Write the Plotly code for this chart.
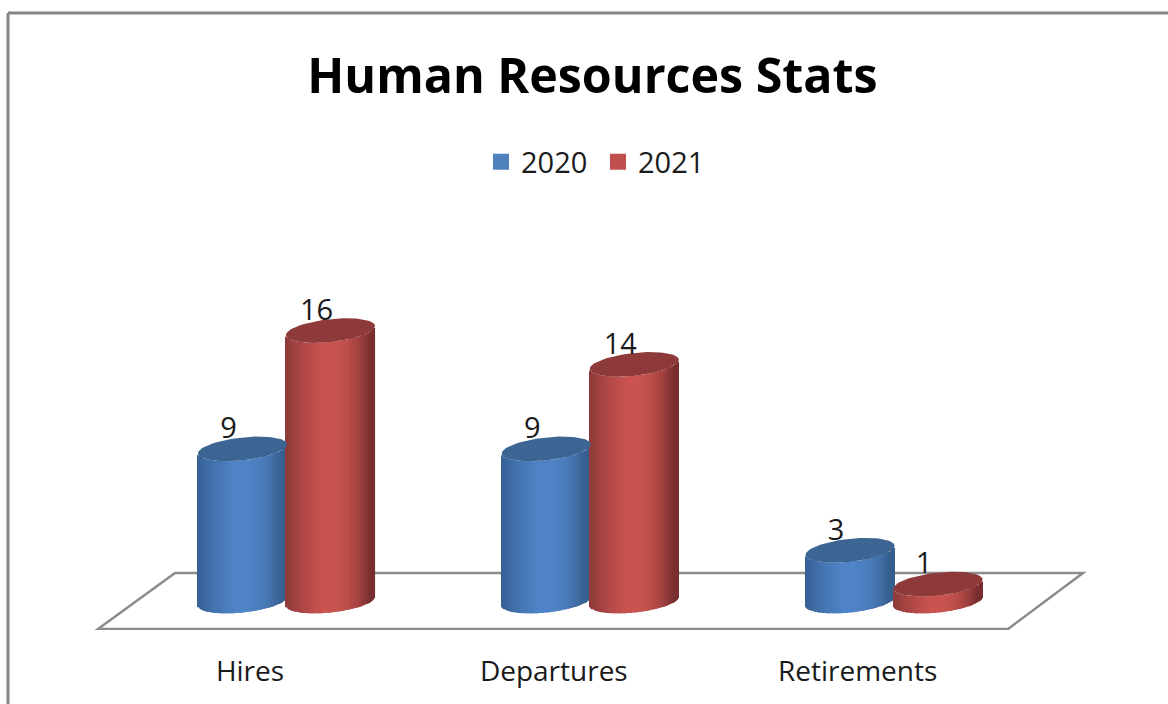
# Human Resources Stats - 3D style cylinder columns built from thin bar slices
import numpy as np
import plotly.graph_objects as go

categories = ["Hires", "Departures", "Retirements"]
values_2020 = [9, 9, 3]
values_2021 = [16, 14, 1]
series_names = ["2020", "2021"]

FONT = "Open Sans"
W, H = 1168, 704
PLOT_BOTTOM = 630      # px of the floor's front edge
PX_X = 303.8           # px per category
PX_Y = 16.9            # px per unit
X0_PX, Y0_PX = 286.5, 601
LABEL_SHIFT = -36.5 / PX_X   # category labels sit left of the group, on the floor's front edge

# cylinder look
half_w = 44.5 / PX_X
off = 44 / PX_X
rim = 11.5 / PX_Y
tilt = 4.5 / PX_Y
u = np.linspace(-1, 1, 81)
u_mid = (u[:-1] + u[1:]) / 2

blue = dict(edge_l=(50, 92, 140), mid=(80, 132, 200), edge_r=(54, 94, 142), top="#3c6594", legend="#4f81bd")
red = dict(edge_l=(132, 54, 54), mid=(203, 84, 80), edge_r=(120, 46, 46), top="#8e3a3a", legend="#c0504d")


def shade(t, c):
    # t runs -1..1 across the cylinder
    end = c["edge_l"] if t < -0.1 else c["edge_r"]
    k = abs(t + 0.1)
    k = min(k ** 1.3 if t < -0.1 else k ** 2.4, 1)
    return "rgb(%d,%d,%d)" % tuple(c["mid"][i] + (end[i] - c["mid"][i]) * k for i in range(3))


fig = go.Figure()

for vals, sign, c in [(values_2020, -1, blue), (values_2021, 1, red)]:
    for i, v in enumerate(vals):
        cx = i + sign * off
        fig.add_trace(go.Bar(
            x=cx + u_mid * half_w,
            y=[v] * len(u_mid),
            base=tilt * u_mid - rim * np.sqrt(1 - u_mid ** 2),
            width=(u[1] - u[0]) * half_w * 1.15,
            marker=dict(color=[shade(t, c) for t in u_mid], line_width=0),
            showlegend=False, hoverinfo="skip",
        ))
        # cap of the cylinder
        th = np.linspace(0, 2 * np.pi, 80)
        fig.add_trace(go.Scatter(
            x=cx + half_w * np.cos(th),
            y=v + tilt * np.cos(th) + rim * np.sin(th),
            mode="lines", fill="toself", fillcolor=c["top"],
            line=dict(width=0), showlegend=False, hoverinfo="skip",
        ))
        # data label
        fig.add_trace(go.Scatter(
            x=[cx - 14 / PX_X], y=[v + 18 / PX_Y], mode="text", text=[str(v)],
            textposition="middle center",
            textfont=dict(family=FONT, size=29, color="#1a1a1a"),
            showlegend=False, hoverinfo="skip",
        ))

# legend entries
for name, c in zip(series_names, [blue, red]):
    fig.add_trace(go.Scatter(
        x=[None], y=[None], mode="markers", name=name,
        marker=dict(symbol="square", size=16, color=c["legend"]),
    ))


def fx(px):
    return (px - X0_PX) / PX_X


def fy(px):
    return (Y0_PX - px) / PX_Y


floor = "M%f,%f L%f,%f L%f,%f L%f,%f Z" % (
    fx(98), fy(629), fx(175), fy(573), fx(1083), fy(573), fx(1008), fy(629))

fig.update_layout(
    width=W, height=H,
    barmode="overlay",
    paper_bgcolor="white", plot_bgcolor="white",
    margin=dict(l=0, r=0, t=0, b=H - PLOT_BOTTOM, pad=0),
    title=dict(text="<b>Human Resources Stats</b>", x=592.5 / W, xanchor="center", y=1 - 76 / H, yanchor="middle",
               font=dict(family=FONT, size=48.4, color="black")),
    legend=dict(orientation="h", x=598 / W, xanchor="center", y=1 - 162 / PLOT_BOTTOM, yanchor="middle",
                entrywidth=72, entrywidthmode="pixels",
                font=dict(family=FONT, size=29, color="#1a1a1a"), bgcolor="rgba(0,0,0,0)"),
    xaxis=dict(range=[fx(0), fx(W)], tickvals=[i + LABEL_SHIFT for i in range(3)], ticktext=categories,
               showgrid=False, zeroline=False, showline=False, ticks="", ticklabelstandoff=22,
               tickfont=dict(family=FONT, size=28, color="#1a1a1a")),
    yaxis=dict(range=[fy(PLOT_BOTTOM), fy(0)], visible=False),
    shapes=[
        dict(type="path", path=floor, xref="x", yref="y", layer="below",
             line=dict(color="#8c8c8c", width=2.5), fillcolor="white"),
        dict(type="line", xref="paper", yref="paper", x0=8 / W, x1=1, y0=1 - 13 / PLOT_BOTTOM, y1=1 - 13 / PLOT_BOTTOM,
             line=dict(color="#868686", width=3)),
        dict(type="line", xref="paper", yref="paper", x0=8 / W, x1=8 / W, y0=1 - 13 / PLOT_BOTTOM, y1=1 - H / PLOT_BOTTOM,
             line=dict(color="#868686", width=3)),
    ],
)

# page has a default 8px body margin
fig.write_html("out.html", config={"displayModeBar": False}, post_script="document.body.style.margin='0';")
